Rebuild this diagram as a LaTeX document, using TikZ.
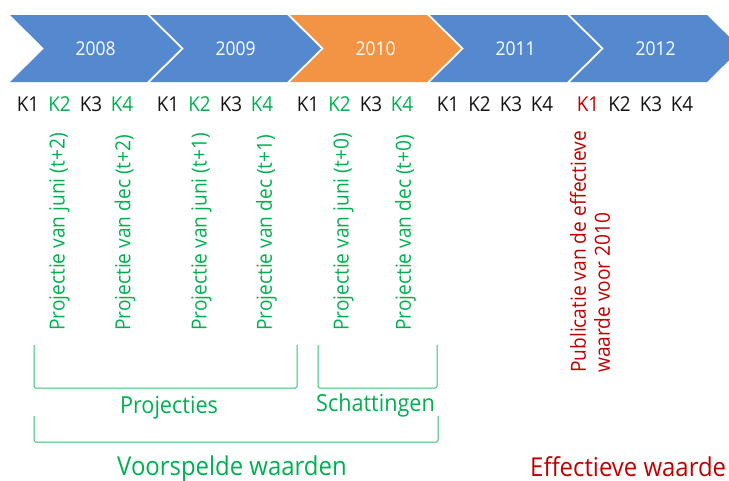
\documentclass[tikz,border=0pt]{standalone}
\usepackage{fontspec}
\setmainfont{Open Sans}[FakeStretch=0.92]
\definecolor{cblue}{RGB}{85,137,207}
\definecolor{corange}{RGB}{242,148,68}
\definecolor{cgreen}{RGB}{0,176,80}
\definecolor{cred}{RGB}{192,0,0}
\definecolor{cblack}{RGB}{20,20,20}
\tikzset{
  year/.style={text=white,inner sep=0,anchor=base,font=\fontsize{19}{22}\selectfont},
  klabel/.style={inner sep=0,anchor=base,font=\fontsize{20.5}{24}\selectfont},
  vtext/.style={text=cgreen,rotate=90,anchor=west,inner sep=0,font=\fontsize{20.8}{24}\selectfont},
  rtext/.style={text=cred,rotate=90,anchor=west,inner sep=0,align=left,font=\fontsize{20.8}{24}\selectfont},
  brk/.style={draw=cgreen!80,line width=1pt,rounded corners=1.5pt},
  glabel/.style={text=cgreen,inner sep=0,anchor=base,font=\fontsize{23.5}{28}\selectfont},
  biglabel/.style={inner sep=0,anchor=base,font=\fontsize{26}{30}\selectfont},
}
\begin{document}
\begin{tikzpicture}[x=1pt,y=-1pt]
\useasboundingbox (0,0) rectangle (729,480);
% chevrons
\foreach \i/\col/\yr in {0/cblue/2008,1/cblue/2009,2/corange/2010,3/cblue/2011,4/cblue/2012}{
  \pgfmathsetmacro\xo{10+140*\i}
  \fill[\col] (\xo,15) -- ++(137,0) -- ++(34,33.5) -- ++(-34,33.5) -- ++(-137,0) -- ++(34,-33.5) -- cycle;
  \node[year] (y\yr) at (\xo+85.5,55) {\yr};
}
% quarter labels
\foreach \g/\ca/\cb/\cc/\cd in {0/cblack/cgreen/cblack/cgreen,1/cblack/cgreen/cblack/cgreen,2/cblack/cgreen/cblack/cgreen,3/cblack/cblack/cblack/cblack,4/cred/cblack/cblack/cblack}{
  \pgfmathsetmacro\gx{140*\g}
  \node[klabel,text=\ca] (k\g a) at (\gx+28,111.5) {K1};
  \node[klabel,text=\cb] (k\g b) at (\gx+59.5,111.5) {K2};
  \node[klabel,text=\cc] (k\g c) at (\gx+91,111.5) {K3};
  \node[klabel,text=\cd] (k\g d) at (\gx+122,111.5) {K4};
}
% vertical projection texts
\node[vtext] (pj8) at (59.5,331) {Projectie van juni (t+2)};
\node[vtext] (pd8) at (125,331) {Projectie van dec (t+2)};
\node[vtext] (pj9) at (201.5,331) {Projectie van juni (t+1)};
\node[vtext] (pd9) at (266.5,331) {Projectie van dec (t+1)};
\node[vtext] (pj10) at (343.5,331) {Projectie van juni (t+0)};
\node[vtext] (pd10) at (405.5,331) {Projectie van dec (t+0)};
\node[rtext] (pub) at (590,373) {Publicatie van de effectieve\\waarde voor 2010};
% brackets
\coordinate (a1) at (34,345); \coordinate (a2) at (34,388);
\coordinate (a3) at (297,388); \coordinate (a4) at (297,345);
\draw[brk] (a1) -- (a2) -- (a3) -- (a4);
\coordinate (b1) at (318,345); \coordinate (b2) at (318,388);
\coordinate (b3) at (437,388); \coordinate (b4) at (437,345);
\draw[brk] (b1) -- (b2) -- (b3) -- (b4);
\coordinate (c1) at (34,416); \coordinate (c2) at (34,442);
\coordinate (c3) at (438,442); \coordinate (c4) at (438,416);
\draw[brk] (c1) -- (c2) -- (c3) -- (c4);
% group labels
\node[glabel] (proj) at (169,413) {Projecties};
\node[glabel] (schat) at (375.5,411.5) {Schattingen};
\node[biglabel,text=cgreen] (voor) at (232,475) {Voorspelde waarden};
\node[biglabel,text=cred,anchor=base west] (eff) at (530,476) {Effectieve waarde};
\end{tikzpicture}
\end{document}
